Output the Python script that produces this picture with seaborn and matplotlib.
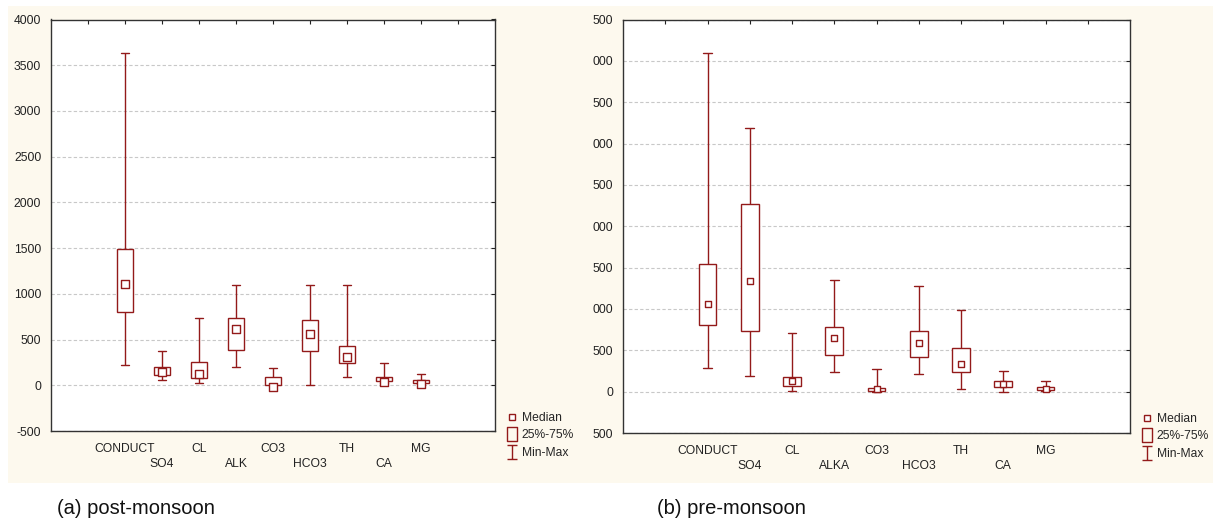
import numpy as np
import pandas as pd
import matplotlib
matplotlib.use("Agg")
import matplotlib.pyplot as plt
import seaborn as sns
from matplotlib.lines import Line2D
from matplotlib.path import Path
from matplotlib.patches import Rectangle

# ---------------- data ----------------
post_params = ["CONDUCT", "SO4", "CL", "ALK", "CO3", "HCO3", "TH", "CA", "MG"]
post_min = [220, 55, 20, 195, 0, 5, 95, 30, 10]
post_q1 = [800, 110, 80, 390, 0, 375, 240, 47, 25]
post_median = [1110, 150, 120, 615, -20, 560, 305, 40, 10]
post_q3 = [1495, 195, 250, 735, 88, 715, 425, 91, 58]
post_max = [3630, 375, 740, 1095, 190, 1095, 1100, 245, 118]

pre_params = ["CONDUCT", "SO4", "CL", "ALKA", "CO3", "HCO3", "TH", "CA", "MG"]
pre_min = [280, 190, 12, 235, 0, 215, 30, 0, 5]
pre_q1 = [805, 730, 73, 440, 7, 420, 242, 52, 16]
pre_median = [1055, 1335, 125, 645, 28, 585, 340, 92, 31]
pre_q3 = [1540, 2265, 181, 786, 48, 733, 524, 128, 56]
pre_max = [4100, 3190, 714, 1350, 270, 1283, 990, 249, 133]

post_yticks = [-500, 0, 500, 1000, 1500, 2000, 2500, 3000, 3500, 4000]
post_yticklabels = ["-500", "0", "500", "1000", "1500", "2000", "2500", "3000", "3500", "4000"]
pre_yticks = [-500, 0, 500, 1000, 1500, 2000, 2500, 3000, 3500, 4000, 4500]
pre_yticklabels = ["500", "0", "500", "000", "500", "000", "500", "000", "500", "000", "500"]

legend_labels = ["Median", "25%-75%", "Min-Max"]
captions = ["(a) post-monsoon", "(b) pre-monsoon"]

RED = "#931a1a"
CREAM = "#fdf9ee"

sns.set_style("white")
plt.rcParams["font.family"] = ["Liberation Sans", "DejaVu Sans"]

W, H = 1215, 519
fig = plt.figure(figsize=(W / 100, H / 100), dpi=100, facecolor="white")
fig.add_artist(Rectangle((8 / W, 1 - 483 / H), 1205 / W, 477 / H,
                         transform=fig.transFigure, facecolor=CREAM,
                         edgecolor="none", zorder=-10))

ax1 = fig.add_axes([51 / W, 1 - 431 / H, 444 / W, 411.5 / H])
ax2 = fig.add_axes([623 / W, 1 - 433 / H, 507 / W, 413.5 / H])

rect_path = Path([(-0.7, -1), (0.7, -1), (0.7, 1), (-0.7, 1), (-0.7, -1)],
                 [Path.MOVETO, Path.LINETO, Path.LINETO, Path.LINETO, Path.CLOSEPOLY])
i_path = Path([(-0.75, -1), (0.75, -1), (0, -1), (0, 1), (-0.75, 1), (0.75, 1)],
              [Path.MOVETO, Path.LINETO, Path.MOVETO, Path.LINETO, Path.MOVETO, Path.LINETO])


def panel(ax, params, mn, q1, med, q3, mx, ylim, yticks, yticklabels, msize, leg_xy, msize_leg):
    rows = []
    for p, a, b, c, d in zip(params, mn, q1, q3, mx):
        for v in (a, b, b, c, d):
            rows.append({"param": p, "value": v})
    df = pd.DataFrame(rows)
    sns.boxplot(data=df, x="param", y="value", order=params, whis=np.inf,
                width=0.42, fill=True, color="white", linecolor=RED, linewidth=1.0,
                medianprops={"visible": False},
                boxprops={"facecolor": "white", "edgecolor": RED},
                whiskerprops={"color": RED}, capprops={"color": RED},
                ax=ax, zorder=3)
    mdf = pd.DataFrame({"param": params, "value": med})
    sns.stripplot(data=mdf, x="param", y="value", order=params, jitter=False,
                  marker="s", size=msize, color="white", edgecolor=RED,
                  linewidth=1.0, ax=ax, zorder=5)
    ax.set_xlim(-2, 10)
    ax.set_ylim(*ylim)
    labels = [""]
    for i, p in enumerate(params):
        labels.append(p if i % 2 == 0 else "\n" + p)
    labels.append("")
    ax.set_xticks(list(range(-1, 10)))
    ax.set_xticklabels(labels)
    for t in ax.get_xticklabels():
        t.set_linespacing(1.3)
    ax.set_yticks(yticks)
    ax.set_yticklabels(yticklabels)
    ax.set_xlabel("")
    ax.set_ylabel("")
    ax.set_facecolor("white")
    ax.yaxis.grid(True, linestyle=(0, (3, 2)), color="#c8c8c8", linewidth=0.8)
    ax.xaxis.grid(False)
    ax.set_axisbelow(True)
    ax.tick_params(axis="both", direction="in", length=3, width=0.8,
                   top=True, right=True, labelsize=8.7, colors="#222222")
    ax.tick_params(axis="y", pad=7)
    ax.tick_params(axis="x", pad=9)
    for s in ax.spines.values():
        s.set_visible(True)
        s.set_color("#333333")
        s.set_linewidth(1.0)
    handles = [
        Line2D([], [], marker="s", linestyle="none", markerfacecolor="white",
               markeredgecolor=RED, markersize=msize_leg, markeredgewidth=1.0),
        Line2D([], [], marker=rect_path, linestyle="none", markerfacecolor="none",
               markeredgecolor=RED, markersize=9.5, markeredgewidth=1.0),
        Line2D([], [], marker=i_path, linestyle="none", markerfacecolor="none",
               markeredgecolor=RED, markersize=9.5, markeredgewidth=1.0),
    ]
    ax.legend(handles, legend_labels, loc="upper left",
              bbox_to_anchor=(leg_xy[0] / W, 1 - leg_xy[1] / H),
              bbox_transform=fig.transFigure, frameon=False, fontsize=8.7,
              handlelength=1.0, handletextpad=0.3, labelspacing=0.45,
              borderpad=0, borderaxespad=0)


panel(ax1, post_params, post_min, post_q1, post_median, post_q3, post_max,
      (-500, 4000), post_yticks, post_yticklabels, 5.5, (506, 412), 5.0)
panel(ax2, pre_params, pre_min, pre_q1, pre_median, pre_q3, pre_max,
      (-500, 4500), pre_yticks, pre_yticklabels, 3.8, (1141, 413), 3.8)

fig.text(57 / W, 1 - 508 / H, captions[0], fontsize=14.5, va="center", ha="left", color="#111111")
fig.text(657 / W, 1 - 508 / H, captions[1], fontsize=14.5, va="center", ha="left", color="#111111")

fig.savefig("out.png", dpi=100, facecolor="white")
